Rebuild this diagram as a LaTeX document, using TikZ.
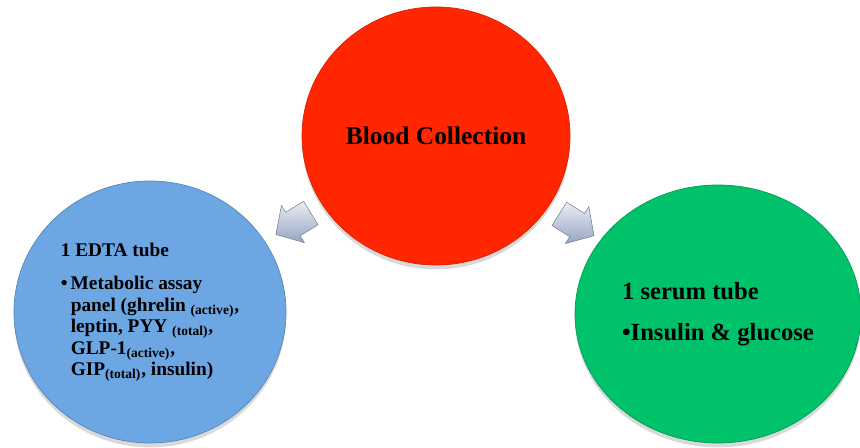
\documentclass[tikz,border=0pt]{standalone}
\usepackage{fontspec}
\setmainfont{Liberation Serif}
\usetikzlibrary{shapes.geometric,shapes.arrows,shadows,calc}
\definecolor{bloodred}{RGB}{255,38,0}
\definecolor{edtablue}{RGB}{108,167,227}
\definecolor{serumgreen}{RGB}{0,194,106}
\definecolor{arrowgray}{RGB}{150,166,196}
\newcommand{\lowtext}[1]{\textsubscript{#1}}
\newcommand{\bul}{\textbullet}
\newcommand{\hang}{\phantom{\bul\,}}

\begin{document}
\begin{tikzpicture}[font=\bfseries,
	blob/.style={ellipse,inner sep=0pt,text=black,drop shadow={opacity=0.3,shadow xshift=0pt,shadow yshift=-2.5pt}},
	flow/.style={single arrow,inner sep=0pt,text height=0.27cm,text depth=0.27cm,minimum height=0.82cm,
		single arrow head extend=0.16cm,single arrow tip angle=95,
		top color=white!80!arrowgray,bottom color=arrowgray,draw=arrowgray!75!black,line width=0.3pt}]
	\useasboundingbox (0,0) rectangle (17.2,8.96);
	
	\node[blob,fill=bloodred,draw=bloodred!85!black,minimum width=5.36cm,minimum height=5.16cm,
		font=\fontsize{14.5}{17}\bfseries] at (8.72,6.24)(blood){Blood Collection};
	
	\node[blob,fill=edtablue,draw=edtablue!80!black,minimum width=5.44cm,minimum height=5.24cm,align=left,
		font=\fontsize{11}{12.2}\bfseries] at (3.0,2.72)(edta){1 EDTA tube\\[7pt]
		\bul\,Metabolic assay\\
		\hang panel (ghrelin \lowtext{(active)},\\
		\hang leptin, PYY \lowtext{(total)},\\
		\hang GLP-1\lowtext{(active)},\\
		\hang GIP\lowtext{(total)}, insulin)};
	
	\node[blob,fill=serumgreen,draw=serumgreen!80!black,minimum width=5.72cm,minimum height=5.16cm,align=left,
		font=\fontsize{14}{17}\bfseries] at (14.36,2.68)(serum){1 serum tube\\[6pt]
		\bul Insulin \& glucose};
	
	\node[flow,rotate=211.6] at ($(blood)!0.48!(edta)$)(toedta){};
	\node[flow,rotate=-32.3] at ($(blood)!0.48!(serum)$)(toserum){};
\end{tikzpicture}
\end{document}
